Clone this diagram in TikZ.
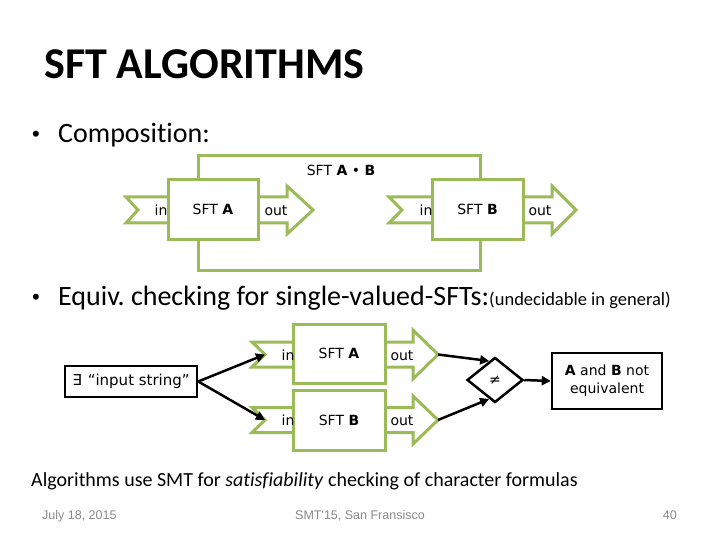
\documentclass[tikz,border=0pt]{standalone}
\usepackage{fontspec}
\setmainfont{Carlito}[Ligatures={NoCommon}]
\newfontfamily\djfont{DejaVu Sans}
\newfontfamily\libfont{Liberation Sans}
\usetikzlibrary{shapes.geometric,arrows.meta,calc}
\definecolor{olivegreen}{HTML}{9BBB59}
\definecolor{footgray}{HTML}{8A8A8A}
\frenchspacing
\begin{document}
\begin{tikzpicture}[x=1pt,y=-1pt,
  gline/.style={draw=olivegreen,line width=3pt,line join=miter,fill=white},
  gbox/.style={draw=olivegreen,line width=3pt,fill=white,minimum width=90pt,minimum height=59pt,inner sep=0pt,font=\djfont\fontsize{14}{16}\selectfont},
  dtext/.style={font=\djfont\fontsize{14}{16}\selectfont,inner sep=0pt,anchor=base},
  bbox/.style={draw=black,line width=2.5pt,fill=white,inner sep=0pt,font=\djfont\fontsize{14}{18}\selectfont},
  conn/.style={line width=2.5pt,-{Triangle[length=9pt,width=9pt]}},
  bullettext/.style={anchor=base west,inner sep=0pt,font=\fontsize{28}{32}\selectfont},
  bulletdot/.style={anchor=base west,inner sep=0pt,font=\libfont\fontsize{22}{26}\selectfont},
  foot/.style={inner sep=0pt,text=footgray,font=\libfont\fontsize{12.5}{15}\selectfont}]
\useasboundingbox (0,0) rectangle (720,540);
\fill[white] (0,0) rectangle (720,540);

% title and bullets
\node[anchor=base west,inner sep=0pt,font=\bfseries\fontsize{44}{50}\selectfont] (title) at (44,79) {SFT ALGORITHMS};
\node[bulletdot] (bul1) at (32,142) {•};
\node[bullettext] (b1) at (58,143) {Composition:};
\node[bulletdot] (bul2) at (32,304) {•};
\node[bullettext] (b2) at (58,305) {Equiv. checking for single-valued-SFTs:{\fontsize{18.5}{22}\selectfont(undecidable in general)}};

% composition diagram
\draw[gline] (198,156) rectangle (480,270);
\node[dtext] (comp) at (341,176) {SFT \textbf{A} • \textbf{B}};
\draw[gline] (126,197) -- (213,197) -- (213,223) -- (126,223) -- (138,210) -- cycle;
\draw[gline] (213,197) -- (287,197) -- (287,186) -- (313,210) -- (287,234) -- (287,223) -- (213,223) -- cycle;
\draw[gline] (389,197) -- (477,197) -- (477,223) -- (389,223) -- (402,210) -- cycle;
\draw[gline] (477,197) -- (552,197) -- (552,186) -- (576,210) -- (552,234) -- (552,223) -- (477,223) -- cycle;
\node[gbox] (sfta) at (213,209.5) {SFT \textbf{A}};
\node[gbox,minimum width=91pt] (sftb) at (477.5,209.5) {SFT \textbf{B}};
\node[dtext] (ina) at (161,215) {in};
\node[dtext] (outa) at (276,215) {out};
\node[dtext] (inb) at (426,215) {in};
\node[dtext] (outb) at (540,215) {out};

% equivalence diagram
\draw[gline] (252,342) -- (339,342) -- (339,367) -- (252,367) -- (265,354.5) -- cycle;
\draw[gline] (339,342) -- (413,342) -- (413,330) -- (438,354.5) -- (413,379) -- (413,367) -- (339,367) -- cycle;
\draw[gline] (252,407.5) -- (339,407.5) -- (339,432.5) -- (252,432.5) -- (265,420) -- cycle;
\draw[gline] (339,407.5) -- (413,407.5) -- (413,396) -- (438,420) -- (413,444) -- (413,432.5) -- (339,432.5) -- cycle;
\node[gbox,minimum width=92pt] (eqa) at (339,353.5) {SFT \textbf{A}};
\node[gbox,minimum width=92pt,minimum height=60pt] (eqb) at (339,420) {SFT \textbf{B}};
\node[dtext] (eina) at (288,360) {in};
\node[dtext] (eouta) at (402,360) {out};
\node[dtext] (einb) at (288,425.5) {in};
\node[dtext] (eoutb) at (402,425.5) {out};
\coordinate (na) at (265,354.5);
\coordinate (nb) at (265,420);
\coordinate (ta) at (438,354.5);
\coordinate (tb) at (438,420);

\node[bbox,minimum width=132pt,minimum height=31pt,font=\djfont\fontsize{15}{18}\selectfont] (ex) at (131,381.5) {∃\hspace{6pt}“input string”};
\node[draw,diamond,line width=2.5pt,fill=white,minimum width=56pt,minimum height=45pt,inner sep=0pt,aspect=1.25,font=\djfont\fontsize{14}{16}\selectfont] (neq) at (495,380) {≠};
\node[bbox,minimum width=110pt,minimum height=56pt,align=center] (res) at (607,381) {\textbf{A} and \textbf{B} not\\equivalent};

\draw[conn] (ex.east) -- (na);
\draw[conn] (ex.east) -- (nb);
\draw[conn] (ta) -- ($(neq.north)!0.2!(neq.west)$);
\draw[conn] (tb) -- ($(neq.south)!0.2!(neq.west)$);
\draw[conn] (neq.east) -- (res.west);

% bottom text
\node[anchor=base west,inner sep=0pt,font=\fontsize{20}{24}\selectfont] (alg) at (31,486) {Algorithms use SMT for \textit{satisfiability} checking of character formulas};

% footer
\node[foot,anchor=base west] (date) at (42,519) {July 18, 2015};
\node[foot,anchor=base] (conf) at (360,519) {SMT'15, San Fransisco};
\node[foot,anchor=base east] (num) at (677,519) {40};
\end{tikzpicture}
\end{document}
